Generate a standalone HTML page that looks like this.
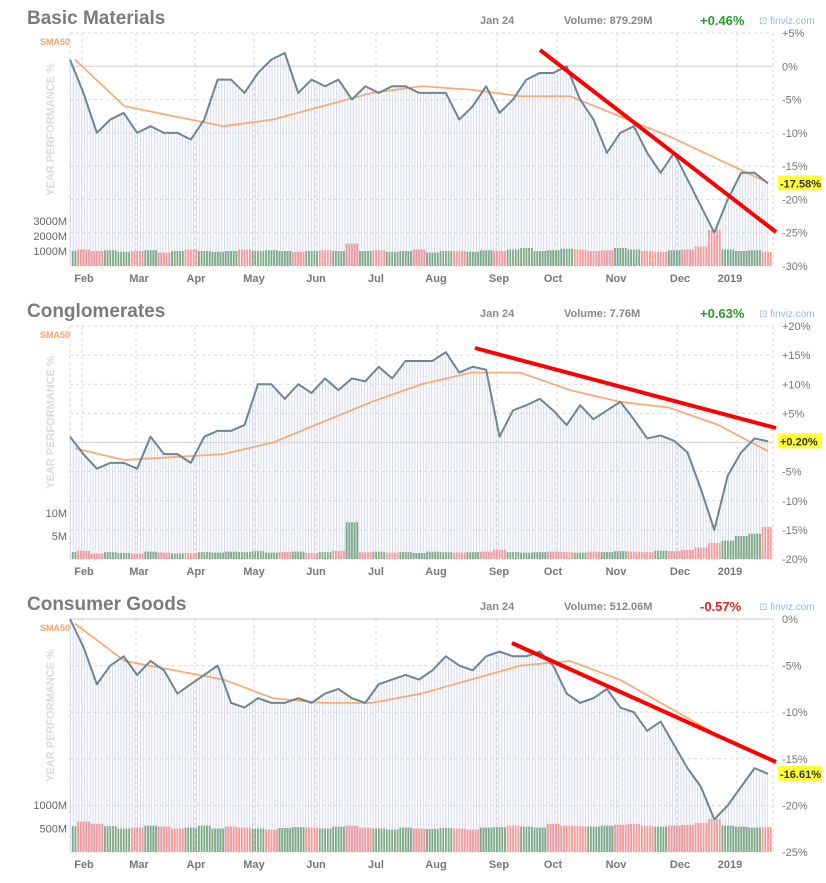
<!DOCTYPE html>
<html><head><meta charset="utf-8"><style>
body{margin:0;background:#fff;width:826px;height:883px;overflow:hidden;font-family:"Liberation Sans",sans-serif}
svg{display:block}
</style></head><body>
<svg id="c" width="826" height="883" xmlns="http://www.w3.org/2000/svg">
<defs>
<pattern id="hatch" width="2.8" height="4" patternUnits="userSpaceOnUse"><rect x="0" y="0" width="1" height="4" fill="#d5d9ec"/></pattern>
</defs>
</svg>
<script>
// Basic Materials
const bmPrice=[1,-4,-10,-8,-7,-10,-9,-10,-10,-11,-8,-2,-2,-4,-1,1,2,-4,-2,-3,-2,-5,-3,-4,-3,-3,-4,-4,-4,-8,-6,-3,-7,-5,-2,-1,-1,0,-5,-8,-13,-10,-9,-13,-16,-13,-17,-21,-25,-20,-16,-16,-17.58];
const bmSma=[1,-6,-7.5,-9,-8,-6,-4,-3,-3.5,-4.5,-4.5,-7.5,-10.5,-14,-17.5];
const bmVol=[1000,1100,1000,1050,950,1000,1050,900,1000,1100,1000,950,1000,1100,1000,1050,1000,950,1000,1050,1000,1500,1000,1050,950,1000,1100,900,1000,1000,950,1050,1000,1100,1200,1000,1050,1150,1100,1000,1050,1200,1100,1000,950,1050,1100,1300,2400,1100,1000,1050,950];
const bmTicks=[5,0,-5,-10,-15,-20,-25,-30];
// Conglomerates
const cgPrice=[1,-2,-4.5,-3.5,-3.5,-4.5,1,-2,-2,-3.5,1,2,2,3,10,10,7.5,10,8.5,11,9,11,10.5,13,11,14,14,14,15.5,12,13,12.5,1,5.5,6.4,7.5,5.5,3,6.4,4,5.5,7,4,0.7,1.2,0.3,-1.7,-8,-15,-5.7,-1.7,0.7,0.2];
const cgSma=[-1,-3,-2.5,-2,0,3.5,7,10,12,12,9,7,6,3,-1.5];
const cgVol=[1.5,1.8,1.2,1.5,1.3,1.2,1.6,1.4,1.2,1.3,1.5,1.4,1.6,1.5,1.7,1.4,1.5,1.6,1.3,1.5,1.8,8,1.5,1.6,1.4,1.5,1.3,1.6,1.5,1.4,1.5,1.6,2,1.5,1.4,1.5,1.6,1.5,1.4,1.6,1.5,1.7,1.6,1.5,1.8,1.7,2,2.5,3.5,4,5,5.5,7];
const cgTicks=[20,15,10,5,0,-5,-10,-15,-20];
// Consumer Goods
const cnPrice=[0,-3,-7,-5,-4,-6,-4.5,-5.5,-8,-7,-6,-5,-9,-9.5,-8.5,-9,-9,-8.5,-9,-8,-7.5,-8.5,-9,-7,-6.5,-6,-6.5,-5.5,-4,-5,-5.5,-4,-3.5,-4,-4,-3.5,-5,-8,-9,-8.5,-7.5,-9.5,-10,-12,-11,-13.5,-16,-18,-21.5,-20,-18,-16,-16.61];
const cnSma=[-0.5,-4.5,-5.5,-6.5,-8.5,-9,-9,-8,-6.5,-5,-4.5,-6.5,-9.5,-12.5,-15];
const cnVol=[550,650,600,550,500,520,560,540,500,520,560,500,540,520,500,480,510,530,520,500,540,560,520,500,480,520,500,490,510,500,480,520,530,560,540,520,600,560,550,540,560,580,600,560,540,560,580,620,700,560,540,520,530];
const cnTicks=[0,-5,-10,-15,-20,-25];
const months=["Feb","Mar","Apr","May","Jun","Jul","Aug","Sep","Oct","Nov","Dec","2019"];
const monthX=[84,139,196,254,316,376,436,499,553,616,680,730];

const svg=document.getElementById('c');
const NS="http://www.w3.org/2000/svg";
function mk(tag,attrs,parent,text){const e=document.createElementNS(NS,tag);for(const k in attrs)e.setAttribute(k,attrs[k]);if(text!==undefined)e.textContent=text;(parent||svg).appendChild(e);return e;}
const X0=70,X1=773;

function panel(o){
  const g=mk('g',{});
  
  
  const y=v=>o.yTop+(o.tMax-v)*(o.yBot-o.yTop)/(o.tMax-o.tMin);
  const xi=(i,n)=>X0+i*(768-X0)/(n-1);
  const xs=(i,n)=>75+i*(768-75)/(n-1);
  let t=mk('text',{x:27,y:o.yTop-9,'font-size':19,'font-weight':'bold',fill:'#7b7b7b'},g,o.title);
  
  t=mk('text',{x:480,y:o.yTop-9,'font-size':11,'font-weight':'bold',fill:'#888'},g,'Jan 24');
  
  t=mk('text',{x:564,y:o.yTop-9,'font-size':11,'font-weight':'bold',fill:'#888'},g,'Volume: '+o.volText);
  
  t=mk('text',{x:700,y:o.yTop-8,'font-size':13,'font-weight':'bold',fill:o.chgColor},g,o.chg);
  
  t=mk('text',{x:759,y:o.yTop-9,'font-size':10,fill:'#9bb8d8'},g,'⊡ finviz.com');
  
  t=mk('text',{x:40,y:o.yTop+12,'font-size':9,'font-weight':'bold',fill:'#f4a46a'},g,'SMA50');
  
  const cy=(o.yTop+o.yBot)/2-20;
  t=mk('text',{x:0,y:0,'font-size':11,'font-weight':'bold',fill:'#dcdcdc','text-anchor':'middle',transform:`translate(54,${cy}) rotate(-90)`},g,'YEAR PERFORMANCE %');
  
  o.ticks.forEach(v=>{
    const l=mk('line',{x1:X0,x2:X1,y1:y(v),y2:y(v),stroke:v===0?'#d6d6d6':'#dadada','stroke-width':v===0?1.2:1,'stroke-dasharray':v===0?'':'3,3'},g);
    
    const lb=mk('text',{x:782,y:y(v)+4,'font-size':11,fill:'#777'},g,(v>0&&o.plus?'+':'')+v+'%');
    
  });
  const vx=[X0,82,136,195,254,315,376,437,497,557,617,677,737,X1];
  vx.forEach(x=>{const l=mk('line',{x1:x,x2:x,y1:o.yTop,y2:o.yBot,stroke:'#d8d8d8','stroke-dasharray':'3,3'},g);
    });
  months.forEach((m,i)=>{const lb=mk('text',{x:monthX[i],y:o.yBot+16,'font-size':11,'font-weight':'bold',fill:'#777','text-anchor':'middle'},g,m);
    });
  const n=o.price.length;
  let d=`M${X0},${o.yBot}`;o.price.forEach((v,i)=>{d+=`L${xi(i,n)},${y(v)}`});d+=`L768,${o.yBot}Z`;
  const a=mk('path',{d,fill:'url(#hatch)'},g);
  const step=(768-X0)/(n-1);
  o.vol.forEach((v,i)=>{
    const up=i===0||o.price[i]>=o.price[i-1];
    const h=v*o.vScale;
    for(let k=0;k<5;k++){
      const bx=xi(i,n)-step/2+k*step/5+0.5;
      if(bx<X0||bx>770)continue;
      const b=mk('rect',{x:bx,y:o.yBot-h,width:1.8,height:h,fill:up?'#7faa86':'#f39a9a'},g);
      
      
    }
  });
  o.vLabels.forEach(([val,txt])=>{const lb=mk('text',{x:67,y:o.yBot-val*o.vScale+4,'font-size':11,fill:'#666','text-anchor':'end'},g,txt);
    });
  let sd='';o.sma.forEach((v,i)=>{sd+=(i?'L':'M')+xs(i,o.sma.length)+','+y(v)});
  const s=mk('path',{d:sd,fill:'none',stroke:'#f5ad7a','stroke-width':1.8,'stroke-linejoin':'round'},g);
  
  let pd='';o.price.forEach((v,i)=>{pd+=(i?'L':'M')+xi(i,n)+','+y(v)});
  const p=mk('path',{d:pd,fill:'none',stroke:'#6d8595','stroke-width':2,'stroke-linejoin':'round'},g);
  
  const tl=mk('line',{x1:o.trend[0],y1:o.trend[1],x2:o.trend[2],y2:o.trend[3],stroke:'#f00','stroke-width':4},g);
  
  const lv=o.price[n-1];
  const r=mk('rect',{x:778,y:y(lv)-8,width:44,height:15,fill:'#ffff33'},g);
  
  const lt=mk('text',{x:780,y:y(lv)+4,'font-size':11,'font-weight':'bold',fill:'#333'},g,(lv>0?'+':'')+lv.toFixed(2)+'%');
  
}
panel({key:'basic-materials',title:'Basic Materials',volText:'879.29M',chg:'+0.46%',chgColor:'#2a9a2a',yTop:33,yBot:266,tMax:5,tMin:-30,ticks:bmTicks,plus:true,price:bmPrice,sma:bmSma,vol:bmVol,vScale:0.015,vLabels:[[1000,'1000M'],[2000,'2000M'],[3000,'3000M']],trend:[540,50,776,232]});
panel({key:'conglomerates',title:'Conglomerates',volText:'7.76M',chg:'+0.63%',chgColor:'#2a9a2a',yTop:326,yBot:559,tMax:20,tMin:-20,ticks:cgTicks,plus:true,price:cgPrice,sma:cgSma,vol:cgVol,vScale:4.6,vLabels:[[5,'5M'],[10,'10M']],trend:[475,348,776,428]});
panel({key:'consumer-goods',title:'Consumer Goods',volText:'512.06M',chg:'-0.57%',chgColor:'#e0242a',yTop:619,yBot:852,tMax:0,tMin:-25,ticks:cnTicks,plus:false,price:cnPrice,sma:cnSma,vol:cnVol,vScale:0.047,vLabels:[[500,'500M'],[1000,'1000M']],trend:[512,643,776,762]});
</script>
</body></html>
